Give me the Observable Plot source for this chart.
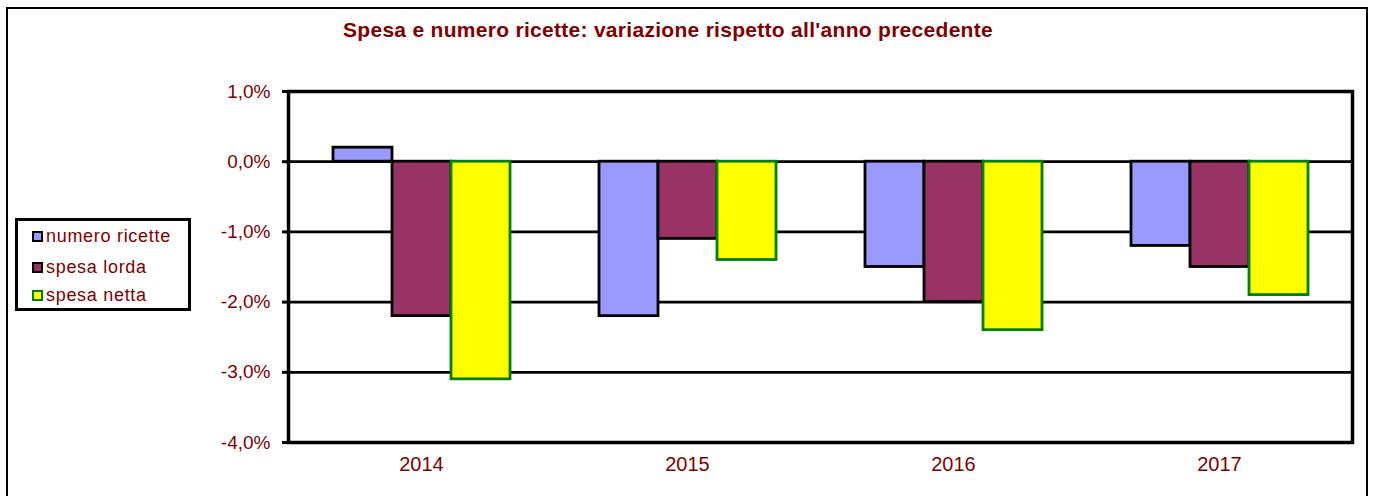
<!DOCTYPE html>
<html>
<head>
<meta charset="utf-8">
<script src="https://cdn.jsdelivr.net/npm/d3@7"></script>
<script src="https://cdn.jsdelivr.net/npm/@observablehq/plot@0.6"></script>
<style>
  html, body { margin: 0; padding: 0; background: #fff; }
  #wrap { position: relative; width: 1375px; height: 496px; overflow: hidden; font-family: "Liberation Sans", Arial, sans-serif; }
  #border { position: absolute; left: 6px; top: 7px; width: 1362px; height: 520px; border: 2px solid #000; box-sizing: border-box; }
  #title { position: absolute; left: 343px; top: 18px; line-height: 24px; font-family: "Liberation Sans Narrow", "Arial Narrow", "Liberation Sans", sans-serif; font-weight: bold; font-size: 21px; color: #800000; white-space: nowrap; }
  #chart { position: absolute; left: 0; top: 0; }
  #legend { position: absolute; left: 15px; top: 218px; width: 176px; height: 93px; border: 3px solid #000; box-sizing: border-box; background: #fff; }
  .item { position: absolute; left: 14px; height: 20px; display: flex; align-items: center; font-size: 18px; color: #800000; letter-spacing: 0.7px; white-space: nowrap; }
  .sw { width: 7px; height: 7px; border: 2px solid #000; margin-right: 3px; }
</style>
</head>
<body>
<div id="wrap">
  <div id="border"></div>
  <div id="chart"></div>
  <div id="title">Spesa e numero ricette: variazione rispetto all'anno precedente</div>
  <div id="legend"></div>
</div>
<script>
// ---- data ----
const years = ["2014", "2015", "2016", "2017"];
const series = ["numero ricette", "spesa lorda", "spesa netta"];
const numeroRicette = [0.2, -2.2, -1.5, -1.2];
const spesaLorda = [-2.2, -1.1, -2.0, -1.5];
const spesaNetta = [-3.1, -1.4, -2.4, -1.9];
const yTicks = [1, 0, -1, -2, -3, -4];

// ---- styles ----
const fillColors = ["#9999FF", "#993366", "#FFFF00"];
const strokeColors = ["#000000", "#000000", "#008000"];
const textColor = "#800000";

const values = [numeroRicette, spesaLorda, spesaNetta];
const data = [];
years.forEach((yr, i) => series.forEach((s, j) => data.push({year: yr, series: s, value: values[j][i]})));

const fmt = d => d.toFixed(1).replace(".", ",") + "%";

const chart = Plot.plot({
  width: 1375,
  height: 496,
  marginLeft: 287,
  marginRight: 23,
  marginTop: 91,
  marginBottom: 54,
  style: {background: "transparent", overflow: "visible", fontFamily: "'Liberation Sans', Arial, sans-serif"},
  fx: {domain: years, padding: 0, axis: null},
  x: {domain: series, paddingInner: 0, paddingOuter: 0.7375, axis: null},
  y: {domain: [-4, 1], axis: null},
  color: {type: "identity"},
  marks: [
    Plot.ruleY(yTicks, {stroke: "#000", strokeWidth: 2.8}),
    Plot.barY(data, {
      fx: "year", x: "series", y: "value",
      fill: d => fillColors[series.indexOf(d.series)],
      stroke: d => strokeColors[series.indexOf(d.series)],
      strokeWidth: 2.8
    }),
    Plot.frame({stroke: "#000", strokeWidth: 3.5, facet: "super"}),
    Plot.axisY({ticks: yTicks, tickFormat: fmt, tickSize: 6, tickPadding: 12, label: null,
      fontSize: 19, fill: textColor, style: {letterSpacing: "0.5px"}, strokeWidth: 3}),
    Plot.axisFx({anchor: "bottom", tickSize: 0, tickPadding: 14, label: null,
      fontSize: 20, fill: textColor, style: {letterSpacing: "0.3px"}})
  ]
});
document.getElementById("chart").appendChild(chart);

// title: fit to the reference's text width
const title = document.getElementById("title");
const nChars = title.textContent.length;
const w0 = title.getBoundingClientRect().width;
title.style.letterSpacing = ((650 - w0) / nChars) + "px";

// legend
const legend = document.getElementById("legend");
const tops = [5, 36, 64];
series.forEach((s, j) => {
  const it = document.createElement("div");
  it.className = "item";
  it.style.top = tops[j] + "px";
  const sw = document.createElement("div");
  sw.className = "sw";
  sw.style.background = fillColors[j];
  sw.style.borderColor = strokeColors[j];
  it.appendChild(sw);
  it.appendChild(document.createTextNode(s));
  legend.appendChild(it);
});
</script>
</body>
</html>
